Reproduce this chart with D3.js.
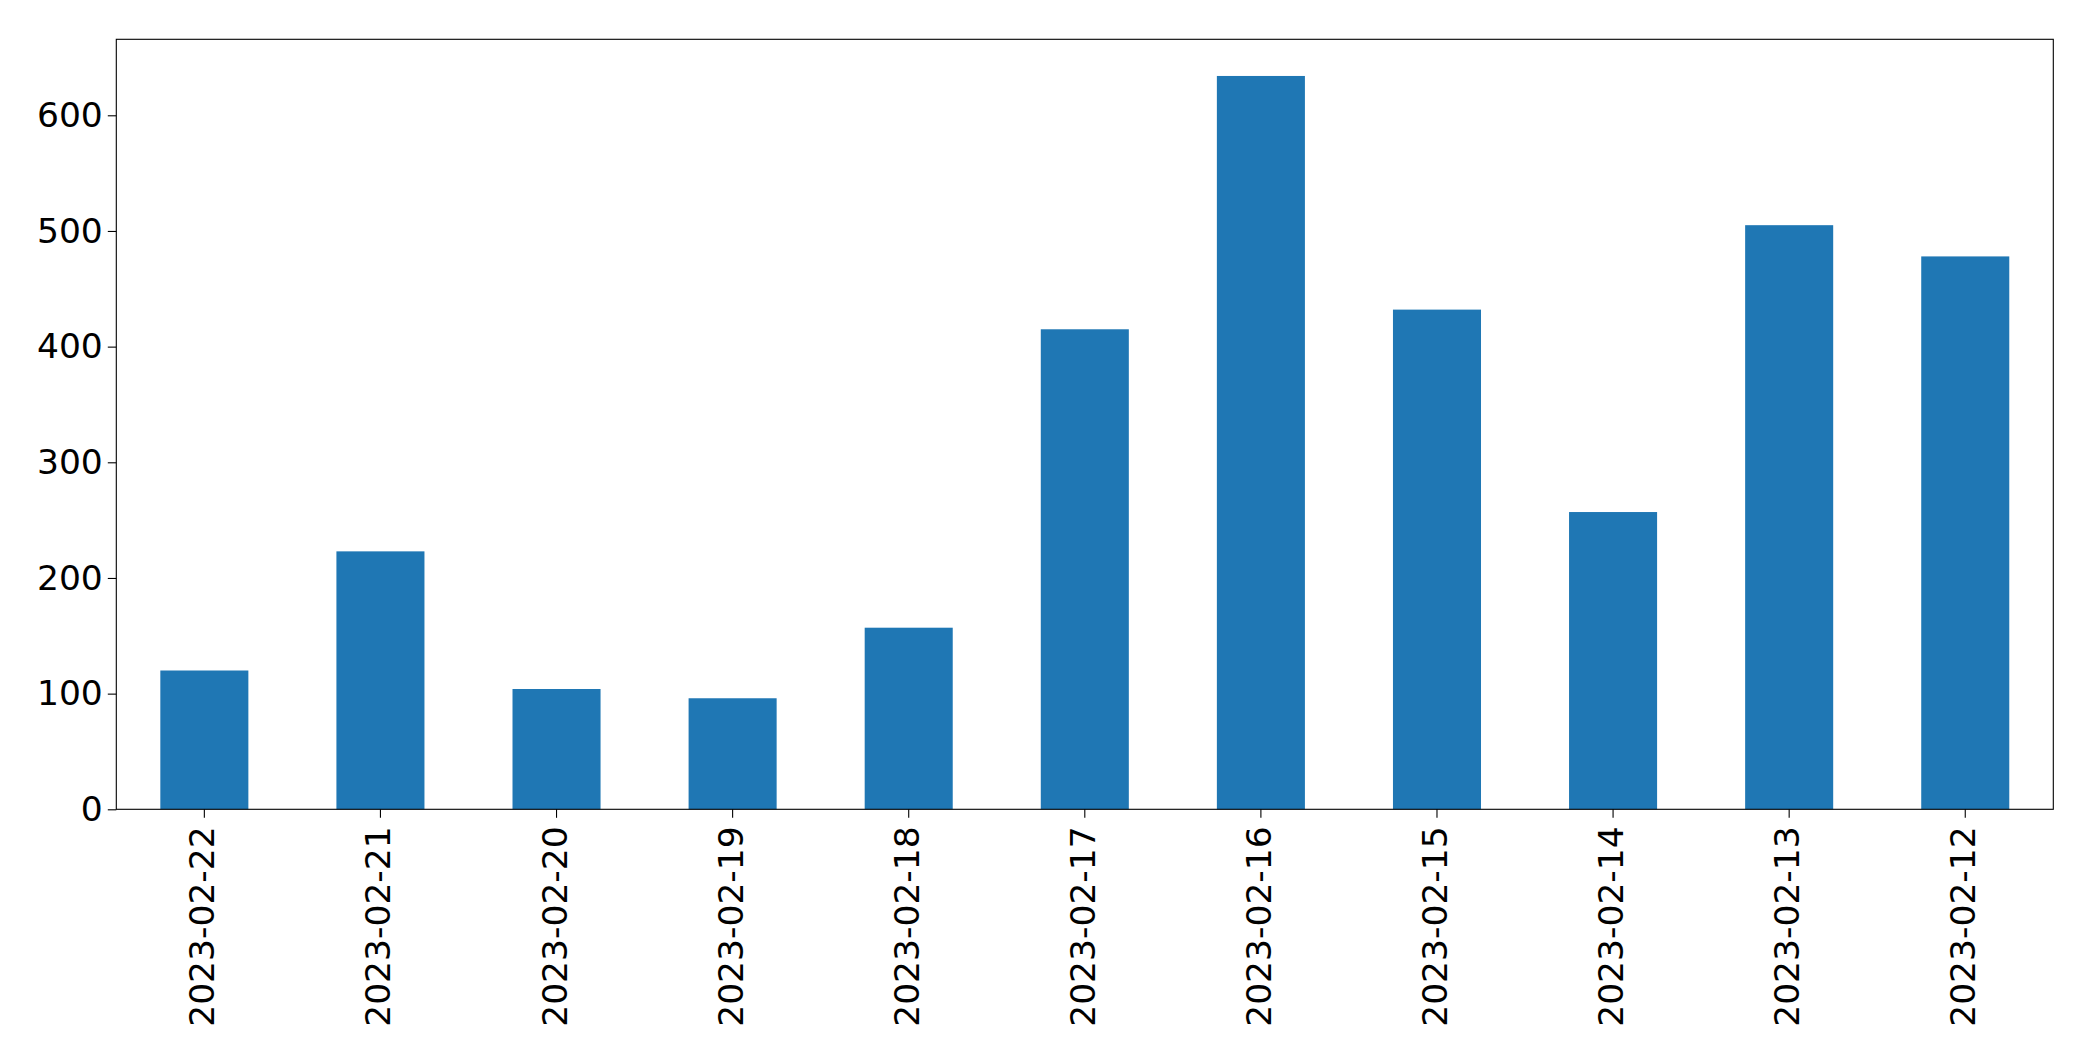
<!DOCTYPE html>
<html>
<head>
<meta charset="utf-8">
<script src="https://cdn.jsdelivr.net/npm/d3@7"></script>
<style>
  html, body { margin: 0; padding: 0; background: #fff; }
  svg { display: block; }
  text { font-family: "DejaVu Sans", sans-serif; }
</style>
</head>
<body>
<svg id="chart" width="2093" height="1061"></svg>
<script>
const categories = ["2023-02-22","2023-02-21","2023-02-20","2023-02-19","2023-02-18","2023-02-17","2023-02-16","2023-02-15","2023-02-14","2023-02-13","2023-02-12"];
const values = [120, 223, 104, 96, 157, 415, 634, 432, 257, 505, 478];
const yTicks = [0, 100, 200, 300, 400, 500, 600];

const W = 2093, H = 1061;
const margin = { left: 116.3, right: W - 2053.3, top: 39.3, bottom: H - 809.3 };
const svg = d3.select("#chart");
const innerW = W - margin.left - margin.right;
const innerH = H - margin.top - margin.bottom;
const g = svg.append("g").attr("transform", `translate(${margin.left},${margin.top})`);

const x = d3.scaleBand().domain(categories).range([0, innerW]).paddingInner(0.5).paddingOuter(0.25);
const yMax = d3.max(values) * 1.05;
const y = d3.scaleLinear().domain([0, yMax]).range([innerH, 0]);

g.selectAll("rect.bar").data(values).join("rect")
  .attr("class", "bar")
  .attr("x", (d, i) => x(categories[i]))
  .attr("width", x.bandwidth())
  .attr("y", d => y(d))
  .attr("height", d => innerH - y(d))
  .attr("fill", "#1f77b4");

const fs = 34.5;
const yAxis = d3.axisLeft(y).tickValues(yTicks).tickSize(8.5).tickPadding(5).tickFormat(d3.format("d"));
const ya = g.append("g").call(yAxis);
ya.select(".domain").remove();
ya.selectAll("text").attr("font-size", fs).attr("fill", "#000").attr("font-family", "DejaVu Sans");
ya.selectAll("line").attr("stroke", "#000").attr("stroke-width", 1.1);

const xAxis = d3.axisBottom(x).tickSize(8.5).tickPadding(0);
const xa = g.append("g").attr("transform", `translate(0,${innerH})`).call(xAxis);
xa.select(".domain").remove();
xa.selectAll("line").attr("stroke", "#000").attr("stroke-width", 1.1);
xa.selectAll("text")
  .attr("font-size", fs).attr("fill", "#000").attr("font-family", "DejaVu Sans")
  .attr("text-anchor", "end")
  .attr("dy", null)
  .attr("dominant-baseline", "central")
  .attr("transform", "translate(-2, 17) rotate(-90)")
  .attr("y", 0).attr("x", 0);

// frame
g.append("rect").attr("x", 0).attr("y", 0).attr("width", innerW).attr("height", innerH)
  .attr("fill", "none").attr("stroke", "#000").attr("stroke-width", 1.1);
</script>
</body>
</html>
